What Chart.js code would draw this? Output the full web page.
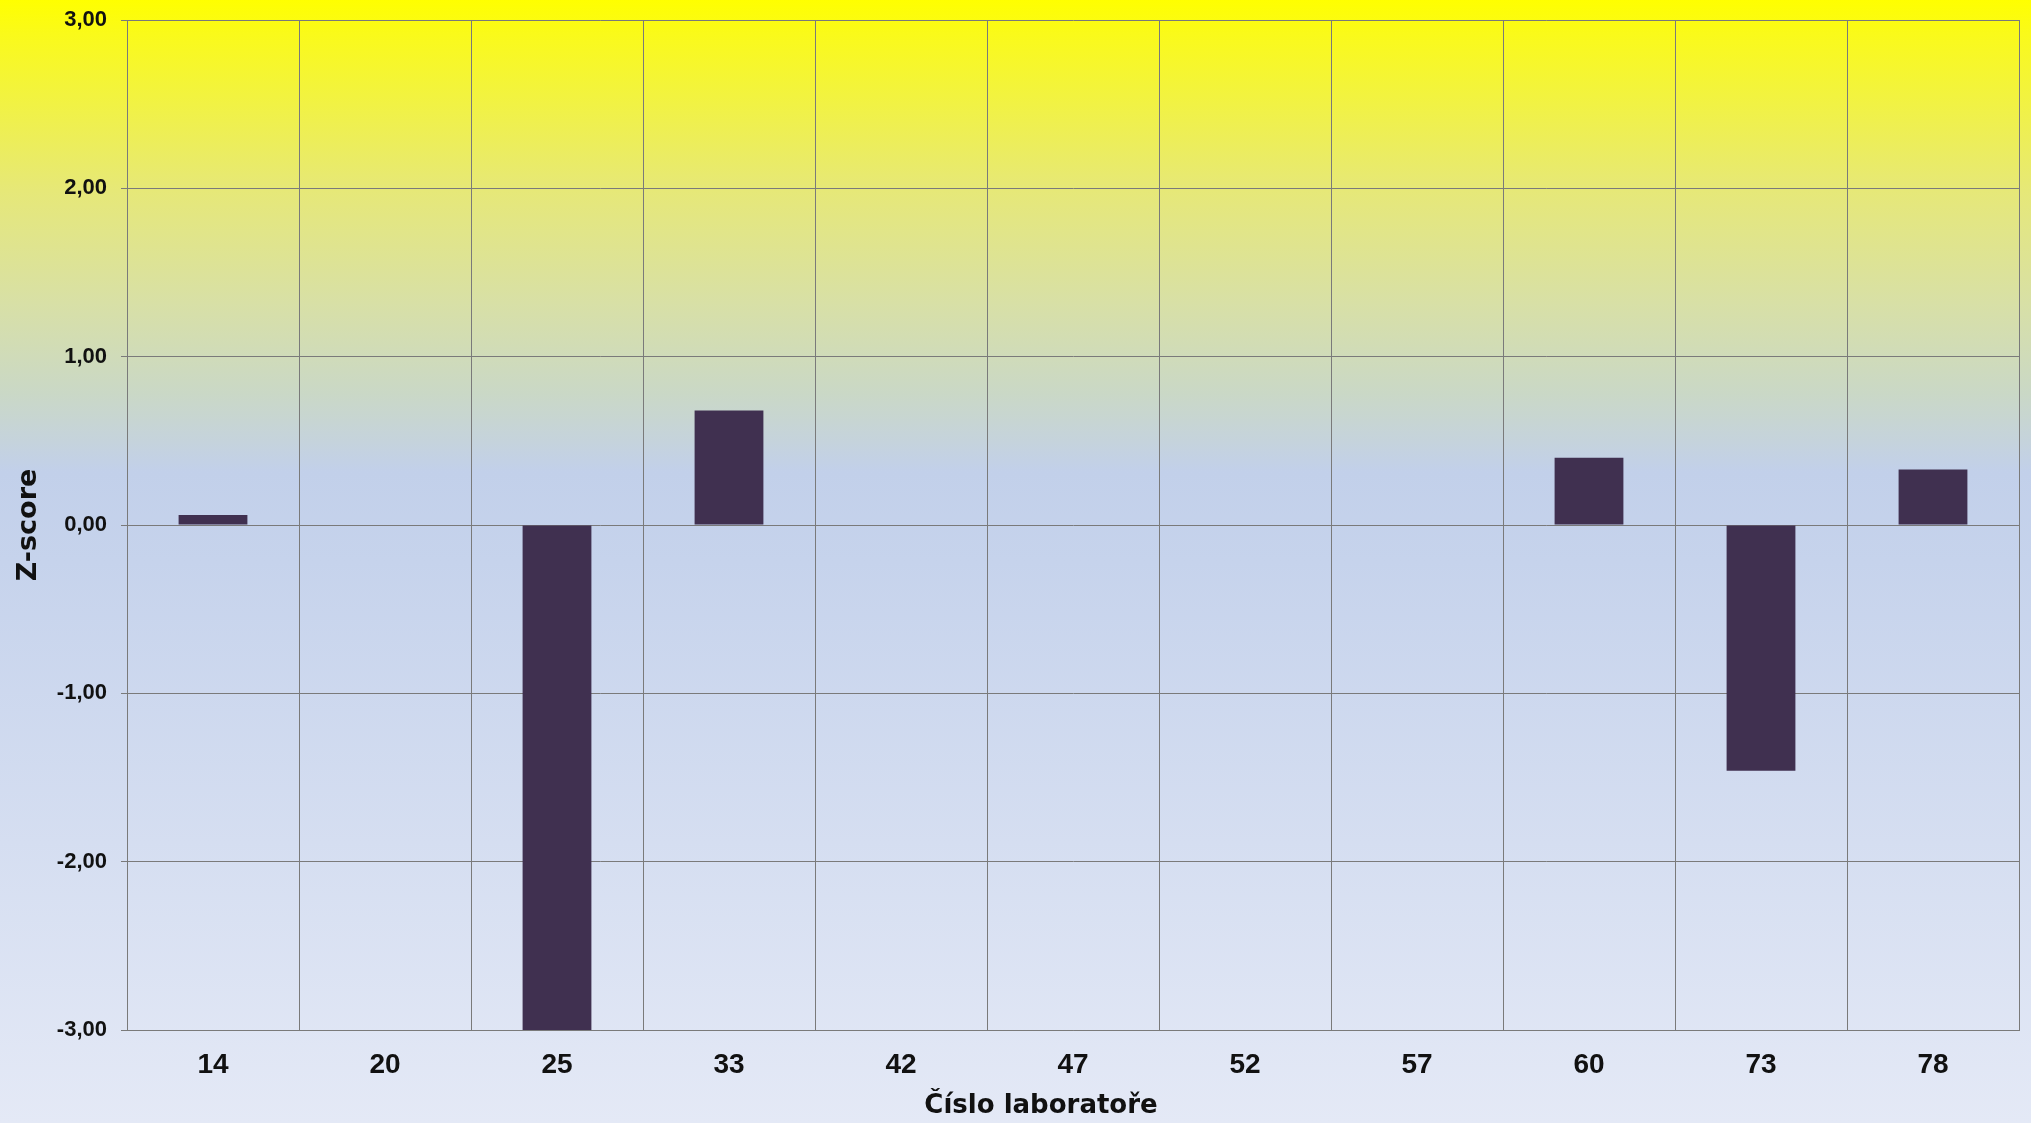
<!DOCTYPE html>
<html>
<head>
<meta charset="utf-8">
<script src="https://cdn.jsdelivr.net/npm/chart.js@4/dist/chart.umd.min.js"></script>
<style>
  html, body { margin: 0; padding: 0; background: #e4e9f6; }
  #wrap { width: 2031px; height: 1123px; position: relative; }
</style>
</head>
<body>
<div id="wrap"><canvas id="c" width="2031" height="1123"></canvas></div>
<script>
const labs = ['14', '20', '25', '33', '42', '47', '52', '57', '60', '73', '78'];
const zScores = [0.06, null, -3.0, 0.68, null, null, null, null, 0.40, -1.46, 0.33];
const yTicks = [-3, -2, -1, 0, 1, 2, 3];
const xTitle = 'Číslo laboratoře';
const yTitle = 'Z-score';

const bgPlugin = {
  id: 'bg',
  beforeDraw(chart) {
    const ctx = chart.ctx;
    const h = chart.height, w = chart.width;
    const g = ctx.createLinearGradient(0, 0, 0, h);
    g.addColorStop(0.00, '#ffff00');
    g.addColorStop(0.03, '#fafa1a');
    g.addColorStop(0.17, '#e6e878');
    g.addColorStop(0.27, '#d8e0a6');
    g.addColorStop(0.35, '#cad8c6');
    g.addColorStop(0.42, '#c2d0ea');
    g.addColorStop(0.50, '#c6d3ec');
    g.addColorStop(1.00, '#e4e9f6');
    ctx.save();
    ctx.fillStyle = g;
    ctx.fillRect(0, 0, w, h);
    ctx.restore();
  }
};

// x-axis title, drawn slightly left of the plot centre as in the original
const xTitlePlugin = {
  id: 'xTitle',
  afterDraw(chart) {
    const ctx = chart.ctx;
    const a = chart.chartArea;
    ctx.save();
    ctx.font = "bold 26px 'DejaVu Sans', Verdana, sans-serif";
    ctx.fillStyle = '#111111';
    ctx.textAlign = 'center';
    ctx.textBaseline = 'alphabetic';
    ctx.fillText(xTitle, (a.left + a.right) / 2 - 32, chart.height - 10);
    ctx.restore();
  }
};

const FONT = "'Liberation Sans', Arial, sans-serif";

new Chart(document.getElementById('c'), {
  type: 'bar',
  data: {
    labels: labs,
    datasets: [{
      data: zScores,
      backgroundColor: '#403050',
      borderWidth: 0,
      barPercentage: 0.40,
      categoryPercentage: 1.0
    }]
  },
  plugins: [bgPlugin, xTitlePlugin],
  options: {
    responsive: false,
    animation: false,
    devicePixelRatio: 1,
    layout: { padding: { top: 20, right: 12, bottom: 0, left: 0 } },
    plugins: { legend: { display: false }, tooltip: { enabled: false } },
    scales: {
      x: {
        grid: { color: '#7a7a7a', lineWidth: 1, drawTicks: false, offset: true },
        border: { color: '#7a7a7a', width: 1 },
        ticks: {
          color: '#111111',
          font: { family: FONT, size: 28, weight: 'bold' },
          padding: 18,
          maxRotation: 0
        },
        title: { display: false },
        afterFit(scale) { scale.height = 93; }
      },
      y: {
        min: -3,
        max: 3,
        afterBuildTicks(scale) { scale.ticks = yTicks.map(v => ({ value: v })); },
        grid: { color: '#7a7a7a', lineWidth: 1, drawTicks: true, tickLength: 6 },
        border: { color: '#7a7a7a', width: 1 },
        ticks: {
          color: '#111111',
          font: { family: FONT, size: 22, weight: 'bold' },
          padding: 14,
          callback: v => v.toFixed(2).replace('.', ',')
        },
        title: {
          display: true,
          text: yTitle,
          color: '#111111',
          font: { family: "'DejaVu Sans', Verdana, sans-serif", size: 27, weight: 'bold' },
          padding: { top: 13, bottom: 0 }
        },
        afterFit(scale) {
          scale.width = 127;
          scale.paddingTop = 0;
          scale.paddingBottom = 0;
        }
      }
    }
  }
});
</script>
</body>
</html>
